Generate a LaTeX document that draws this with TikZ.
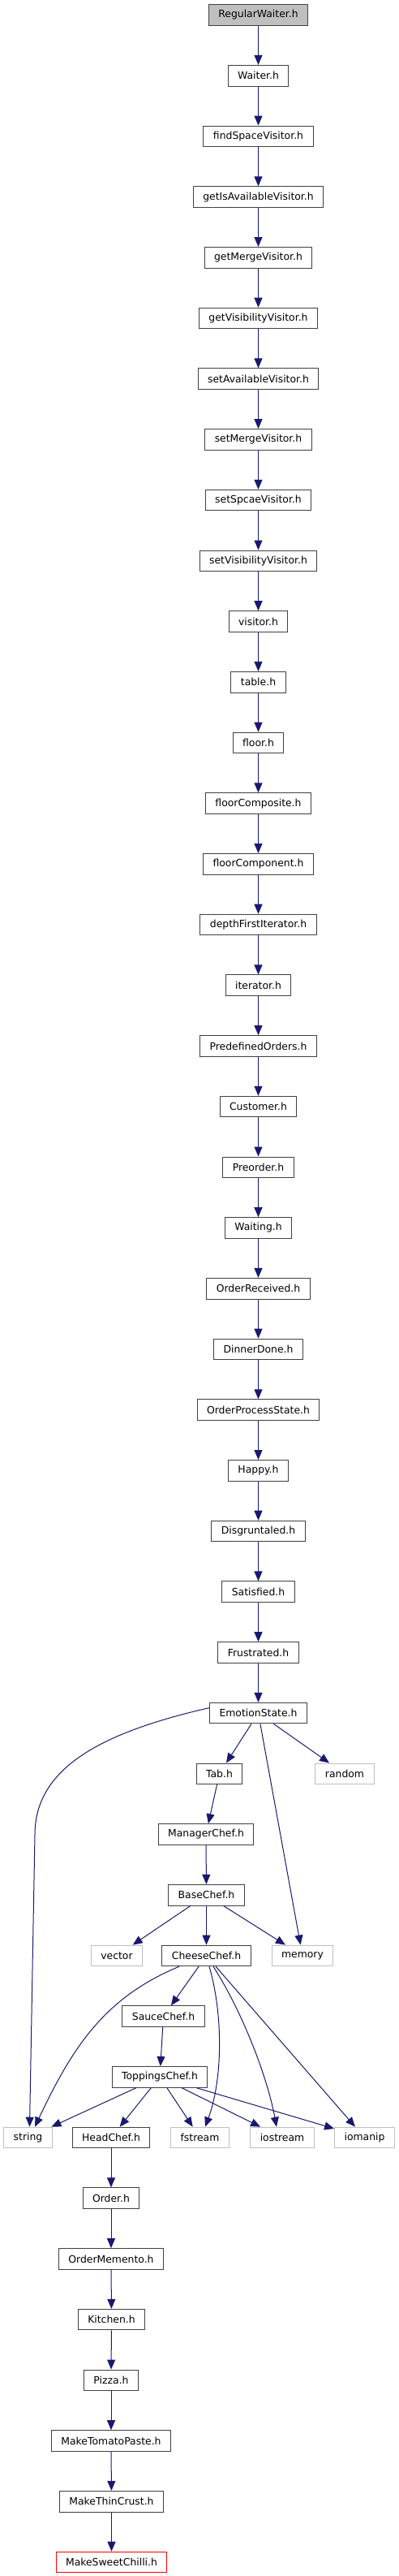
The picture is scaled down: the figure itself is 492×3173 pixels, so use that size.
\documentclass[tikz,border=0pt]{standalone}
\usepackage{fontspec}
\setmainfont{DejaVu Sans}
\usetikzlibrary{arrows.meta}

\definecolor{edgeblue}{HTML}{191970}
\definecolor{boxgray}{HTML}{404040}
\definecolor{sysgray}{HTML}{BFBFBF}

\tikzset{
	file/.style = {draw = boxgray, line width = 1pt, fill = white, inner xsep = 12pt, inner ysep = 0pt, minimum height = 25.6pt, font = \fontsize{12.4}{14}\selectfont},
	rootfile/.style = {file, fill = sysgray},
	sysfile/.style = {file, draw = sysgray},
	leaffile/.style = {file, draw = red},
	edge/.style = {draw = edgeblue, line width = 1pt, -{Triangle[length = 12pt, width = 10pt]}}
}

\begin{document}
\begin{tikzpicture}[x = 1pt, y = -1pt]
	\useasboundingbox (0, 0) rectangle (492, 3173);
	
	% long single chain, one rank every 74.7
	\node[rootfile] (regwaiter) at (318.5, 18.5) {RegularWaiter.h};
	\foreach \nm/\txt [count = \i from 1] in {waiter/Waiter.h, findspace/findSpaceVisitor.h, getavail/getIsAvailableVisitor.h, getmerge/getMergeVisitor.h, getvis/getVisibilityVisitor.h, setavail/setAvailableVisitor.h, setmerge/setMergeVisitor.h, setspace/setSpcaeVisitor.h, setvis/setVisibilityVisitor.h, visitor/visitor.h, table/table.h, floor/floor.h, floorcomposite/floorComposite.h, floorcomponent/floorComponent.h, dfiter/depthFirstIterator.h, iterator/iterator.h, predef/PredefinedOrders.h, customer/Customer.h, preorder/Preorder.h, waiting/Waiting.h, orderrecv/OrderReceived.h, dinnerdone/DinnerDone.h, orderproc/OrderProcessState.h, happy/Happy.h, disgruntaled/Disgruntaled.h, satisfied/Satisfied.h, frustrated/Frustrated.h, emotion/EmotionState.h}
	\node[file] (\nm) at (318.5, {18.5 + 74.7*\i}) {\txt};
	
	\foreach \a/\b in {regwaiter/waiter, waiter/findspace, findspace/getavail, getavail/getmerge, getmerge/getvis, getvis/setavail, setavail/setmerge, setmerge/setspace, setspace/setvis, setvis/visitor, visitor/table, table/floor, floor/floorcomposite, floorcomposite/floorcomponent, floorcomponent/dfiter, dfiter/iterator, iterator/predef, predef/customer, customer/preorder, preorder/waiting, waiting/orderrecv, orderrecv/dinnerdone, dinnerdone/orderproc, orderproc/happy, happy/disgruntaled, disgruntaled/satisfied, satisfied/frustrated, frustrated/emotion}
	\draw[edge] (\a) -- (\b);
	
	% chefs
	\node[file] (tab) at (270.5, 2184.8) {Tab.h};
	\node[sysfile] (random) at (425, 2184.8) {random};
	\node[file] (manager) at (254, 2259.5) {ManagerChef.h};
	\node[file] (base) at (254.5, 2334.2) {BaseChef.h};
	\node[sysfile] (vector) at (144, 2408.9) {vector};
	\node[file] (cheese) at (254.5, 2408.9) {CheeseChef.h};
	\node[sysfile] (memory) at (373, 2408.9) {memory};
	\node[file] (sauce) at (201.5, 2483.6) {SauceChef.h};
	\node[file] (toppings) at (197, 2558.3) {ToppingsChef.h};
	\node[sysfile] (string) at (34.5, 2633) {string};
	\node[file] (headchef) at (137, 2633) {HeadChef.h};
	\node[sysfile] (fstream) at (246.5, 2633) {fstream};
	\node[sysfile] (iostream) at (348, 2633) {iostream};
	\node[sysfile] (iomanip) at (449.5, 2633) {iomanip};
	
	% kitchen chain
	\node[file] (order) at (137, 2707.7) {Order.h};
	\node[file] (memento) at (137, 2782.4) {OrderMemento.h};
	\node[file] (kitchen) at (137.5, 2857.1) {Kitchen.h};
	\node[file] (pizza) at (137, 2931.8) {Pizza.h};
	\node[file] (tomato) at (137, 3006.5) {MakeTomatoPaste.h};
	\node[file] (thincrust) at (137.5, 3081.2) {MakeThinCrust.h};
	\node[leaffile] (chilli) at (137.5, 3155.9) {MakeSweetChilli.h};
	
	\draw[edge] ([yshift = 6.5]emotion.west) .. controls (120, 2135) and (43, 2180) .. (43, 2260) -- ([xshift = 2]string.north);
	\draw[edge] (emotion) -- (tab);
	\draw[edge] (emotion) -- (memory);
	\draw[edge] (emotion) -- (random);
	\draw[edge] (tab) -- (manager);
	\draw[edge] (manager) -- (base);
	\draw[edge] (base) -- (vector);
	\draw[edge] (base) -- (cheese);
	\draw[edge] (base) -- (memory);
	
	\draw[edge] ([xshift = -33.5]cheese.south) .. controls (130, 2460) and (90, 2520) .. ([xshift = 8.5]string.north);
	\draw[edge] (cheese) -- (sauce);
	\draw[edge] ([xshift = 3.5]cheese.south) .. controls (275, 2480) and (275, 2560) .. ([xshift = 6.5]fstream.north);
	\draw[edge] ([xshift = 8.5]cheese.south) .. controls (300, 2480) and (330, 2560) .. ([xshift = -7]iostream.north);
	\draw[edge] (cheese) -- (iomanip);
	
	\draw[edge] (sauce) -- (toppings);
	\draw[edge] (toppings) -- (string);
	\draw[edge] (toppings) -- (headchef);
	\draw[edge] (toppings) -- (fstream);
	\draw[edge] (toppings) -- (iostream);
	\draw[edge] (toppings) -- (iomanip);
	
	\foreach \a/\b in {headchef/order, order/memento, memento/kitchen, kitchen/pizza, pizza/tomato, tomato/thincrust, thincrust/chilli}
	\draw[edge] (\a) -- (\b);
\end{tikzpicture}
\end{document}
